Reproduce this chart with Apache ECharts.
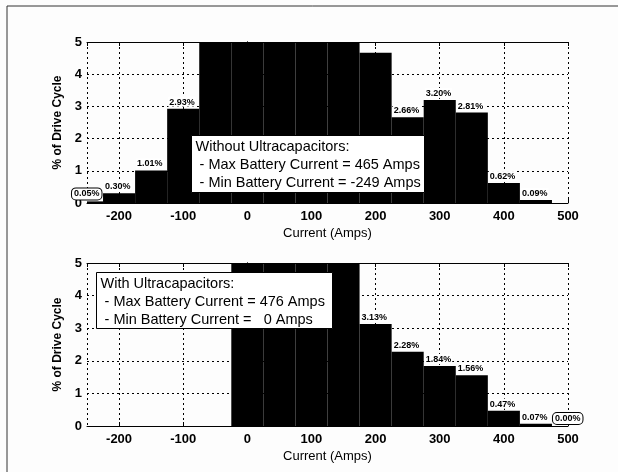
<!DOCTYPE html>
<html>
<head>
<meta charset="utf-8">
<script src="https://cdn.jsdelivr.net/npm/echarts@6/dist/echarts.min.js"></script>
<style>
  html, body { margin: 0; padding: 0; background: #fdfdfd; }
  #chart { width: 618px; height: 472px; }
</style>
</head>
<body>
<div id="chart"></div>
<script>
// Histogram bin centres (Amps), 50 A wide
const bins = [-250, -200, -150, -100, -50, 0, 50, 100, 150, 200, 250, 300, 350, 400, 450, 500];

// % of drive cycle spent in each bin, without ultracapacitors
const withoutUC = [0.05, 0.30, 1.01, 2.93, 6.50, 30.20, 20.40, 14.80, 9.76, 4.67, 2.66, 3.20, 2.81, 0.62, 0.09, 0];
// % of drive cycle spent in each bin, with ultracapacitors
const withUC = [0, 0, 0, 0, 0, 38.00, 24.50, 17.20, 10.95, 3.13, 2.28, 1.84, 1.56, 0.47, 0.07, 0.00];

// Bins that carry a percentage label, and those whose label is boxed
const withoutLabeled = [-250, -200, -150, -100, 250, 300, 350, 400, 450];
const withLabeled = [200, 250, 300, 350, 400, 450, 500];
const withoutBoxed = [-250];
const withBoxed = [500];

const boxTextWithout = [
  'Without Ultracapacitors:',
  ' - Max Battery Current = 465 Amps',
  ' - Min Battery Current = -249 Amps'
];
const boxTextWith = [
  'With Ultracapacitors:',
  ' - Max Battery Current = 476 Amps',
  ' - Min Battery Current =   0 Amps'
];

const BIN_HALF = 25;
const FONT = '"Liberation Sans", Arial, sans-serif';

function renderBar(params, api) {
  const x = api.value(0), v = api.value(1);
  const p0 = api.coord([x - BIN_HALF, 0]);
  const p1 = api.coord([x + BIN_HALF, v]);
  const cs = params.coordSys;
  const r = echarts.graphic.clipRectByRect(
    { x: p0[0], y: p1[1], width: p1[0] - p0[0], height: p0[1] - p1[1] },
    { x: cs.x, y: cs.y, width: cs.width, height: cs.height }
  );
  if (!r) return null;
  return { type: 'rect', shape: r, style: { fill: '#000' } };
}

function makeLabelRenderer(boxed) {
  return function (params, api) {
    const x = api.value(0), v = api.value(1);
    const p = api.coord([x - BIN_HALF, v]);
    const isBoxed = boxed.indexOf(x) >= 0;
    return {
      type: 'text',
      x: p[0] + 1,
      y: p[1] - 2,
      style: {
        text: v.toFixed(2) + '%',
        font: 'bold 9px ' + FONT,
        fill: '#000',
        align: 'left',
        verticalAlign: 'bottom',
        backgroundColor: '#fff',
        padding: isBoxed ? [1, 2, 1, 2] : [1, 1, 0, 1],
        borderColor: isBoxed ? '#000' : null,
        borderWidth: isBoxed ? 1 : 0,
        borderRadius: isBoxed ? 4 : 0
      }
    };
  };
}

function pairs(xs, ys) { return xs.map((x, i) => [x, ys[i]]); }
function labeledPairs(labeled, ys) {
  return labeled.map(x => [x, ys[bins.indexOf(x)]]);
}

const axisText = { color: '#000', fontFamily: FONT, fontSize: 13, fontWeight: 'bold' };
const dotted = { show: true, lineStyle: { color: '#000', type: [2, 3], width: 1 } };

function xAxisMain(gi) {
  return {
    gridIndex: gi, type: 'value', min: -250, max: 500, splitNumber: 7, z: 4,
    position: 'bottom',
    axisLine: { show: true, onZero: false, lineStyle: { color: '#000', width: 1 } },
    axisTick: { show: true, inside: true, length: 4, lineStyle: { color: '#000' } },
    axisLabel: Object.assign({ margin: 7, showMinLabel: false }, axisText),
    splitLine: dotted,
    name: 'Current (Amps)', nameLocation: 'middle', nameGap: 24,
    nameTextStyle: { color: '#000', fontFamily: FONT, fontSize: 13 }
  };
}
function xAxisTop(gi) {
  return {
    gridIndex: gi, type: 'value', min: -250, max: 500, splitNumber: 7, z: 4,
    position: 'top',
    axisLine: { show: true, onZero: false, lineStyle: { color: '#000', width: 1 } },
    axisTick: { show: true, inside: true, length: 4, lineStyle: { color: '#000' } },
    axisLabel: { show: false }, splitLine: { show: false }
  };
}
function yAxisMain(gi) {
  return {
    gridIndex: gi, type: 'value', min: 0, max: 5, interval: 1, z: 4,
    position: 'left',
    axisLine: { show: true, lineStyle: { color: '#000', width: 1 } },
    axisTick: { show: true, inside: true, length: 4, lineStyle: { color: '#000' } },
    axisLabel: Object.assign({ margin: 5 }, axisText),
    splitLine: dotted,
    name: '% of Drive Cycle', nameLocation: 'middle', nameGap: 22, nameRotate: 90,
    nameTextStyle: { color: '#000', fontFamily: FONT, fontSize: 12, fontWeight: 'bold' }
  };
}
function yAxisRight(gi) {
  return {
    gridIndex: gi, type: 'value', min: 0, max: 5, interval: 1, z: 4,
    position: 'right',
    axisLine: { show: true, lineStyle: { color: '#000', width: 1 } },
    axisTick: { show: true, inside: true, length: 4, lineStyle: { color: '#000' } },
    axisLabel: { show: false }, splitLine: { show: false }
  };
}

// Annotation box drawn on top of the bars
function infoBox(lines, left, top, width, height) {
  return {
    type: 'group', left: left, top: top, z: 100,
    children: [
      { type: 'rect', z: 100, shape: { x: 0, y: 0, width: width, height: height },
        style: { fill: '#fff', stroke: '#000', lineWidth: 1 } },
      { type: 'text', z: 101, x: 4, y: 2,
        style: { text: lines.join('\n'), font: '14.5px ' + FONT, fill: '#000', lineHeight: 18 } }
    ]
  };
}

const chart = echarts.init(document.getElementById('chart'), null, { renderer: 'canvas' });
chart.setOption({
  animation: false,
  backgroundColor: '#fdfdfd',
  grid: [
    { left: 87, top: 42, width: 481, height: 161 },
    { left: 87, top: 263, width: 481, height: 163 }
  ],
  xAxis: [xAxisMain(0), xAxisTop(0), xAxisMain(1), xAxisTop(1)],
  yAxis: [yAxisMain(0), yAxisRight(0), yAxisMain(1), yAxisRight(1)],
  series: [
    { type: 'custom', xAxisIndex: 0, yAxisIndex: 0, z: 2, clip: true,
      renderItem: renderBar, data: pairs(bins, withoutUC) },
    { type: 'custom', xAxisIndex: 0, yAxisIndex: 0, z: 6, clip: false,
      renderItem: makeLabelRenderer(withoutBoxed), data: labeledPairs(withoutLabeled, withoutUC) },
    { type: 'custom', xAxisIndex: 2, yAxisIndex: 2, z: 2, clip: true,
      renderItem: renderBar, data: pairs(bins, withUC) },
    { type: 'custom', xAxisIndex: 2, yAxisIndex: 2, z: 6, clip: false,
      renderItem: makeLabelRenderer(withBoxed), data: labeledPairs(withLabeled, withUC) }
  ],
  graphic: [
    // page frame
    { type: 'line', shape: { x1: 7, y1: 6, x2: 618, y2: 6 }, style: { stroke: '#333', lineWidth: 1 }, z: 1 },
    { type: 'line', shape: { x1: 7, y1: 6, x2: 7, y2: 472 }, style: { stroke: '#333', lineWidth: 1 }, z: 1 },
    infoBox(boxTextWithout, 191, 135, 233, 57),
    infoBox(boxTextWith, 96, 272, 236, 56)
  ]
});
</script>
</body>
</html>
